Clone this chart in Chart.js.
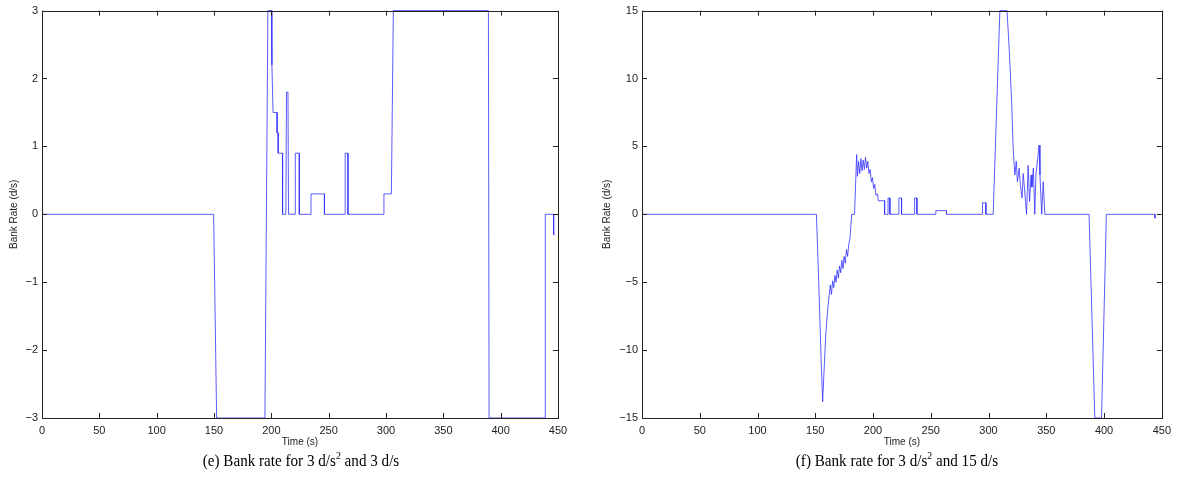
<!DOCTYPE html>
<html>
<head>
<meta charset="utf-8">
<script src="https://cdn.jsdelivr.net/npm/chart.js@4.4.1/dist/chart.umd.min.js"></script>
<style>
  body { margin: 0; background: #fff; width: 1177px; height: 480px; position: relative; overflow: hidden; }
  canvas { position: absolute; top: 0; }
  .cap { position: absolute; top: 451px; font-family: "Liberation Serif", "Times New Roman", serif; font-size: 17px; color: #000; text-align: center; width: 400px; transform: scaleX(0.89); }
  .cap sup { font-size: 11px; vertical-align: 7px; line-height: 0; }
</style>
</head>
<body>
<canvas id="chartE" width="590" height="450" style="left:0px;width:590px;height:450px"></canvas>
<canvas id="chartF" width="584" height="450" style="left:593px;width:584px;height:450px"></canvas>
<div class="cap" style="left:101px">(e) Bank rate for 3 d/s<sup>2</sup> and 3 d/s</div>
<div class="cap" style="left:697px">(f) Bank rate for 3 d/s<sup>2</sup> and 15 d/s</div>
<script>
// bank rate, 3 d/s^2 accel limit, 3 d/s rate limit
const timeE = [0, 149.7, 152.3, 194.4, 197, 200, 200.5, 201.5, 205, 205, 206, 206, 209.8, 209.8,
  212.7, 213.2, 214.5, 215, 220.9, 220.9, 224.4, 224.4, 234.6, 234.6, 246.3, 246.3,
  264.4, 264.4, 266.8, 266.8, 298.2, 298.2, 304.7, 306.4, 389.3, 389.9,
  438.9, 438.9, 446.2, 446.2, 447];
const rateE = [0, 0, -3, -3, 3, 3, 2.2, 1.5, 1.5, 1.2, 1.2, 0.9, 0.9, 0,
  0, 1.8, 1.8, 0, 0, 0.9, 0.9, 0, 0, 0.3, 0.3, 0,
  0, 0.9, 0.9, 0, 0, 0.3, 0.3, 3, 3, -3,
  -3, 0, 0, -0.3, -0.3];

// bank rate, 3 d/s^2 accel limit, 15 d/s rate limit
const timeF = [0, 151, 153, 155, 156.4, 157.5, 159, 160, 161, 162, 163, 164, 165, 166, 167, 168, 169, 170,
  171, 172, 173, 174, 175, 176, 177, 178, 179, 180, 181.5, 184, 185.8, 186.5, 187.5, 188.5, 189.5,
  190.5, 191.5, 192.5, 193.5, 194.5, 195.5, 196.5, 197.5, 198.5, 199.5, 200.5, 201.5, 202.5, 204,
  204.5, 210, 210, 213, 213, 214.6, 214.6, 222.4, 222.4, 224.7, 224.7, 236, 236, 238, 238,
  254.4, 254.4, 263.6, 263.6, 294.8, 294.8, 297.7, 297.7, 304, 309.8, 316, 318, 320, 321.3, 322.8,
  324, 325, 326.5, 327.5, 329, 330, 331.5, 332.9, 334.3, 335.5, 336.8, 337.6, 338.8, 340, 341,
  343.8, 344.5, 346, 347.3, 348.7, 387, 392, 397.8, 402, 444, 444, 445];
const rateF = [0, 0, -5, -10.5, -13.8, -11.7, -9, -7.8, -6.8, -6.0, -5.2, -5.9, -4.9, -5.4, -4.5, -5.0, -4.1, -4.7,
  -3.8, -4.3, -3.4, -4.0, -3.1, -3.6, -2.6, -3.1, -2.2, -1.8, 0, 0, 4.4, 2.8, 3.9, 3.0, 4.1,
  3.2, 4.0, 3.3, 4.2, 3.4, 3.9, 3.0, 3.3, 2.4, 2.7, 1.9, 2.2, 1.4, 1.5,
  1.0, 1.0, 0, 0, 1.2, 1.2, 0, 0, 1.2, 1.2, 0, 0, 1.2, 1.2, 0,
  0, 0.27, 0.27, 0, 0, 0.85, 0.85, 0, 0, 15, 15, 12, 8.3, 4.85, 2.9,
  3.9, 2.4, 3.4, 2.2, 1.2, 3.0, 1.5, 0, 3.6, 0.95, 2.9, 2.0, 3.4, 0, 2.9,
  5.1, 2.9, 0, 2.4, 0, 0, -15, -15, 0, 0, -0.27, -0.27];

const timeTicks = [0, 50, 100, 150, 200, 250, 300, 350, 400, 450];
const rateTicksE = [-3, -2, -1, 0, 1, 2, 3];
const rateTicksF = [-15, -10, -5, 0, 5, 10, 15];

const tickFont = { family: "'Liberation Sans', Arial, sans-serif", size: 11 };
const titleFont = { family: "'Liberation Sans', Arial, sans-serif", size: 10 };

// box around the axes with inward ticks on all four sides
const boxPlugin = {
  id: 'box',
  afterDraw(chart) {
    const { ctx, chartArea: a, scales } = chart;
    ctx.save();
    ctx.strokeStyle = '#222';
    ctx.lineWidth = 1;
    ctx.strokeRect(Math.round(a.left) + 0.5, Math.round(a.top) + 0.5,
      Math.round(a.right - a.left), Math.round(a.bottom - a.top));
    ctx.beginPath();
    scales.x.ticks.forEach(t => {
      const px = Math.round(scales.x.getPixelForValue(t.value)) + 0.5;
      ctx.moveTo(px, a.bottom); ctx.lineTo(px, a.bottom - 5);
      ctx.moveTo(px, a.top); ctx.lineTo(px, a.top + 5);
    });
    scales.y.ticks.forEach(t => {
      const py = Math.round(scales.y.getPixelForValue(t.value)) + 0.5;
      ctx.moveTo(a.left, py); ctx.lineTo(a.left + 5, py);
      ctx.moveTo(a.right, py); ctx.lineTo(a.right - 5, py);
    });
    ctx.stroke();
    ctx.restore();
  }
};

function minus(v) {
  return v < 0 ? '\u2212' + Math.abs(v) : String(v);
}

function makeChart(id, times, rates, yTicks, yWidth, pad) {
  const pts = times.map((t, i) => ({ x: t, y: rates[i] }));
  const lim = yTicks[yTicks.length - 1];
  return new Chart(document.getElementById(id), {
    type: 'line',
    data: {
      datasets: [{
        data: pts,
        borderColor: 'rgba(50,50,255,0.8)',
        borderWidth: 1,
        pointRadius: 0,
        tension: 0,
        clip: 1
      }]
    },
    options: {
      responsive: false,
      animation: false,
      layout: { padding: pad },
      plugins: { legend: { display: false }, tooltip: { enabled: false } },
      scales: {
        x: {
          type: 'linear', min: 0, max: 450,
          afterBuildTicks: s => { s.ticks = timeTicks.map(v => ({ value: v })); },
          afterFit: s => { s.height = 32; },
          grid: { display: false, drawTicks: false },
          border: { display: false },
          ticks: { color: '#222', font: tickFont, padding: 6, maxRotation: 0 },
          title: { display: true, text: 'Time (s)', color: '#222', font: titleFont, padding: { top: 0, bottom: 2 } }
        },
        y: {
          min: -lim, max: lim,
          afterBuildTicks: s => { s.ticks = yTicks.map(v => ({ value: v })); },
          afterFit: s => { s.width = yWidth; },
          grid: { display: false, drawTicks: false },
          border: { display: false },
          ticks: { color: '#222', font: tickFont, padding: 4, callback: v => minus(v) },
          title: { display: true, text: 'Bank Rate (d/s)', color: '#222', font: titleFont, padding: { top: 8, bottom: 0 } }
        }
      }
    },
    plugins: [boxPlugin]
  });
}

makeChart('chartE', timeE, rateE, rateTicksE, 42, { top: 10, right: 32, left: 0, bottom: 0 });
makeChart('chartF', timeF, rateF, rateTicksF, 49, { top: 8, right: 15, left: 0, bottom: 0 });
</script>
</body>
</html>
